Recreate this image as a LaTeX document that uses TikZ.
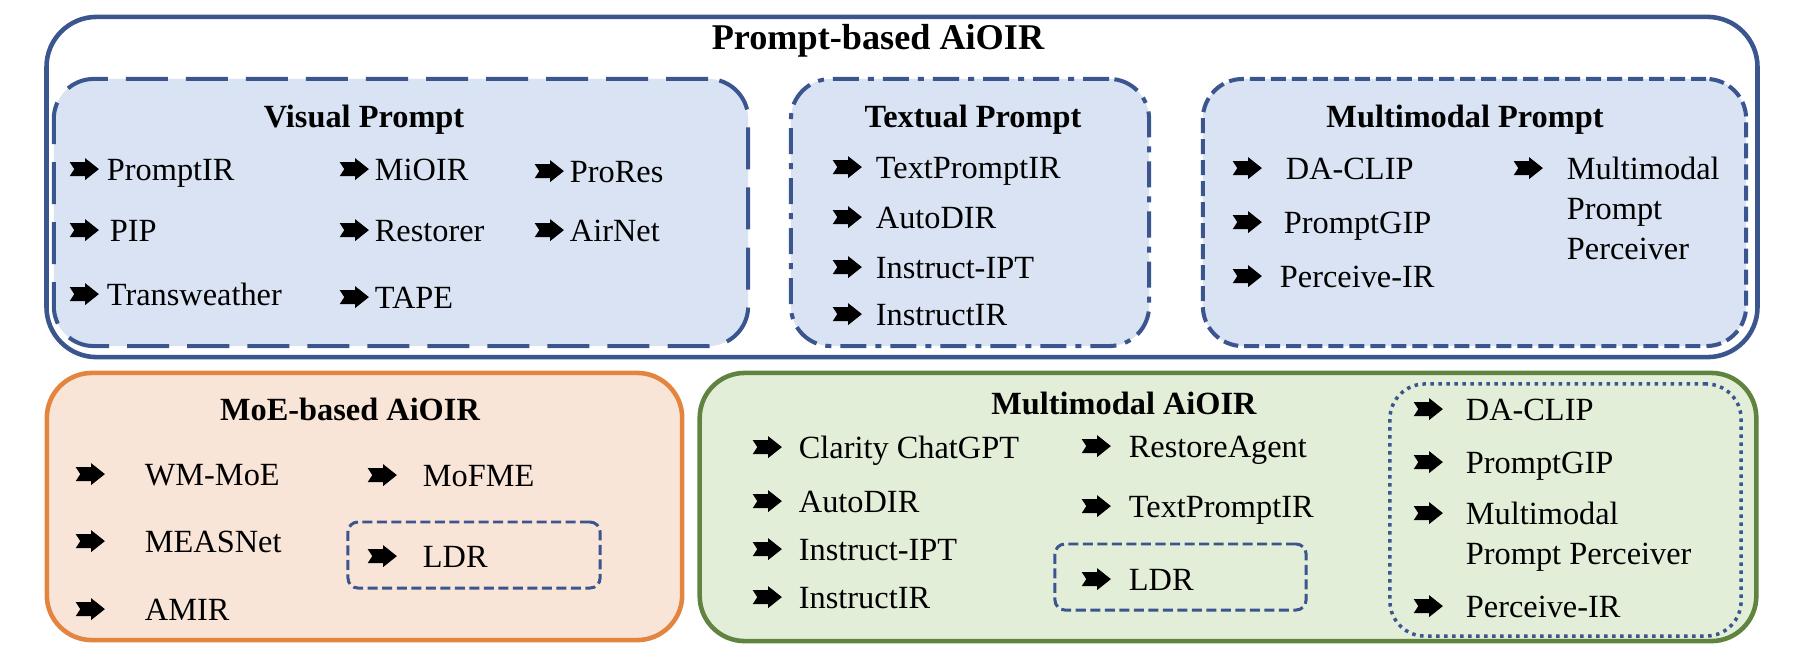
\documentclass[tikz,border=0pt]{standalone}
\usepackage{fontspec}
\setmainfont{Liberation Serif}

\definecolor{promptblue}{RGB}{59,85,143}
\definecolor{promptfill}{RGB}{218,227,243}
\definecolor{moeline}{RGB}{227,132,63}
\definecolor{moefill}{RGB}{248,229,216}
\definecolor{mmline}{RGB}{96,131,64}
\definecolor{mmfill}{RGB}{227,238,217}

% black bullet arrow in front of every method name
\newcommand{\arrowbul}{\tikz[baseline=-3.1pt,x=1pt,y=1pt]\fill[black] (0,2)--(4.4,2)--(4.4,3.1)--(8.3,0)--(4.4,-3.1)--(4.4,-2)--(0,-2)--(1.3,0)--cycle;}

\begin{document}
\begin{tikzpicture}[
    x=0.01cm, y=-0.01cm,
    outerbox/.style={draw=promptblue, line width=1.3pt, rounded corners=0.5cm},
    visbox/.style={draw=promptblue, fill=promptfill, line width=1.15pt, rounded corners=0.4cm, dash pattern=on 0.42cm off 0.18cm},
    txtbox/.style={draw=promptblue, fill=promptfill, line width=1.15pt, rounded corners=0.4cm, dash pattern=on 0.26cm off 0.09cm on 0.06cm off 0.09cm},
    mmpbox/.style={draw=promptblue, fill=promptfill, line width=1.15pt, rounded corners=0.4cm, dash pattern=on 0.15cm off 0.06cm},
    moebox/.style={draw=moeline, fill=moefill, line width=1.3pt, rounded corners=0.45cm},
    mmbox/.style={draw=mmline, fill=mmfill, line width=1.3pt, rounded corners=0.45cm},
    dotbox/.style={draw=promptblue, line width=1pt, rounded corners=0.35cm, dash pattern=on 0.035cm off 0.045cm},
    ldrbox/.style={draw=promptblue, line width=0.85pt, rounded corners=0.1cm, dash pattern=on 0.1cm off 0.045cm},
    ttl/.style={anchor=base, inner sep=0pt, font=\fontsize{9.2}{11}\selectfont\bfseries},
    itm/.style={anchor=base west, inner sep=0pt, font=\fontsize{9.2}{11.5}\selectfont}
]
\useasboundingbox (0,0) rectangle (1800,660);

% Prompt-based AiOIR
\node[outerbox, minimum width=17.1cm, minimum height=3.4cm] (prm) at (902,187) {};
\node[ttl, font=\fontsize{10.3}{12}\selectfont\bfseries] (tprm) at (878,49) {Prompt-based AiOIR};

\node[visbox, minimum width=6.94cm, minimum height=2.67cm] (vis) at (401,212.5) {};
\node[txtbox, minimum width=3.58cm, minimum height=2.67cm] (txt) at (970,212.5) {};
\node[mmpbox, minimum width=5.43cm, minimum height=2.67cm] (mmp) at (1474.5,212.5) {};

\node[ttl] (tvis) at (364,127) {Visual Prompt};
\node[ttl] (ttxt) at (973,127) {Textual Prompt};
\node[ttl] (tmmp) at (1465,127) {Multimodal Prompt};

% Visual Prompt
\node[itm] (vp1) at (69,180) {\arrowbul\hspace{0.08cm}PromptIR};
\node[itm] (vp2) at (69,241) {\arrowbul\hspace{0.11cm}PIP};
\node[itm] (vp3) at (69,305) {\arrowbul\hspace{0.08cm}Transweather};
\node[itm] (vp4) at (339,180) {\arrowbul\hspace{0.06cm}MiOIR};
\node[itm] (vp5) at (339,241) {\arrowbul\hspace{0.06cm}Restorer};
\node[itm] (vp6) at (339,308) {\arrowbul\hspace{0.06cm}TAPE};
\node[itm] (vp7) at (534,182) {\arrowbul\hspace{0.06cm}ProRes};
\node[itm] (vp8) at (534,241) {\arrowbul\hspace{0.06cm}AirNet};

% Textual Prompt
\node[itm] (tp1) at (832,178) {\arrowbul\hspace{0.14cm}TextPromptIR};
\node[itm] (tp2) at (832,228) {\arrowbul\hspace{0.14cm}AutoDIR};
\node[itm] (tp3) at (832,278) {\arrowbul\hspace{0.14cm}Instruct-IPT};
\node[itm] (tp4) at (832,325) {\arrowbul\hspace{0.14cm}InstructIR};

% Multimodal Prompt
\node[itm] (mp1) at (1232,179) {\arrowbul\hspace{0.24cm}DA-CLIP};
\node[itm] (mp2) at (1232,233) {\arrowbul\hspace{0.22cm}PromptGIP};
\node[itm] (mp3) at (1232,287) {\arrowbul\hspace{0.18cm}Perceive-IR};
\node[itm] (mp4) at (1513,179) {\arrowbul\hspace{0.24cm}\begin{tabular}[t]{@{}l@{}}Multimodal\\Prompt\\Perceiver\end{tabular}};

% MoE-based AiOIR
\node[moebox, minimum width=6.35cm, minimum height=2.67cm] (moe) at (364.5,506.5) {};
\node[ldrbox, minimum width=2.52cm, minimum height=0.66cm] (ldra) at (474,555) {};
\node[ttl] (tmoe) at (350,420) {MoE-based AiOIR};

\node[itm] (me1) at (75,485) {\arrowbul\hspace{0.40cm}WM-MoE};
\node[itm] (me2) at (75,552) {\arrowbul\hspace{0.40cm}MEASNet};
\node[itm] (me3) at (75,620) {\arrowbul\hspace{0.40cm}AMIR};
\node[itm] (me4) at (367,486) {\arrowbul\hspace{0.26cm}MoFME};
\node[itm] (me5) at (367,567) {\arrowbul\hspace{0.26cm}LDR};

% Multimodal AiOIR
\node[mmbox, minimum width=10.56cm, minimum height=2.68cm] (mma) at (1228,507) {};
\node[dotbox, minimum width=3.51cm, minimum height=2.52cm] (dot) at (1565.5,510) {};
\node[ldrbox, minimum width=2.51cm, minimum height=0.66cm] (ldrb) at (1180.5,577) {};
\node[ttl] (tmma) at (1124,414) {Multimodal AiOIR};

\node[itm] (ma1) at (752,458) {\arrowbul\hspace{0.17cm}Clarity ChatGPT};
\node[itm] (ma2) at (752,512) {\arrowbul\hspace{0.17cm}AutoDIR};
\node[itm] (ma3) at (752,560) {\arrowbul\hspace{0.17cm}Instruct-IPT};
\node[itm] (ma4) at (752,608) {\arrowbul\hspace{0.17cm}InstructIR};
\node[itm] (ma5) at (1081,457) {\arrowbul\hspace{0.18cm}RestoreAgent};
\node[itm] (ma6) at (1081,517) {\arrowbul\hspace{0.18cm}TextPromptIR};
\node[itm] (ma7) at (1081,590) {\arrowbul\hspace{0.18cm}LDR};

\node[itm] (md1) at (1413,420) {\arrowbul\hspace{0.23cm}DA-CLIP};
\node[itm] (md2) at (1413,473) {\arrowbul\hspace{0.23cm}PromptGIP};
\node[itm] (md3) at (1413,524) {\arrowbul\hspace{0.23cm}\begin{tabular}[t]{@{}l@{}}Multimodal\\Prompt Perceiver\end{tabular}};
\node[itm] (md4) at (1413,617) {\arrowbul\hspace{0.23cm}Perceive-IR};

\end{tikzpicture}
\end{document}
